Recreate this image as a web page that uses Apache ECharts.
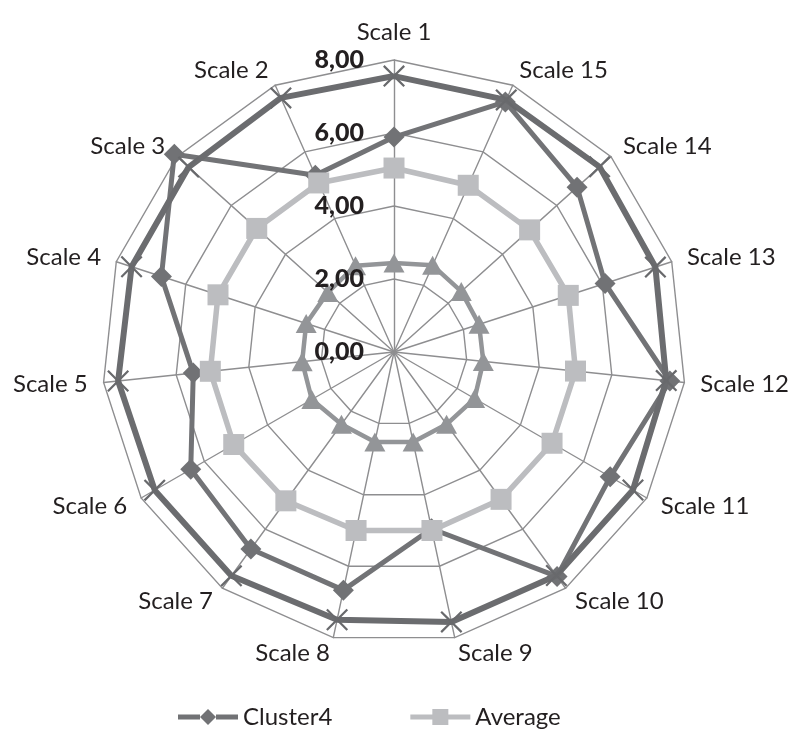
<!DOCTYPE html>
<html>
<head>
<meta charset="utf-8">
<script src="https://cdn.jsdelivr.net/npm/echarts@6/dist/echarts.min.js"></script>
<style>
  html, body { margin: 0; padding: 0; background: #fff; }
  #chart { width: 791px; height: 731px; }
</style>
</head>
<body>
<div id="chart"></div>
<script>
const categories = ["Scale 1", "Scale 2", "Scale 3", "Scale 4", "Scale 5", "Scale 6", "Scale 7", "Scale 8",
  "Scale 9", "Scale 10", "Scale 11", "Scale 12", "Scale 13", "Scale 14", "Scale 15"];
const cluster4 = [5.89, 5.3, 8.1, 6.7, 5.53, 6.43, 6.67, 6.67, 4.95, 7.6, 6.84, 7.6, 6.08, 6.75, 7.5];
const average = [5.04, 5.07, 5.06, 5.07, 5.06, 5.07, 5.04, 5.0, 5.0, 4.99, 5.0, 5.0, 5.02, 5.0, 5.0];
// two more series are drawn but have no legend entry
const upper = [7.56, 7.62, 7.57, 7.56, 7.6, 7.57, 7.58, 7.5, 7.56, 7.57, 7.56, 7.5, 7.53, 7.58, 7.56];
const lower = [2.44, 2.59, 2.44, 2.53, 2.53, 2.6, 2.45, 2.52, 2.52, 2.45, 2.55, 2.46, 2.45, 2.48, 2.6];
const axisMax = 8;

const txt = "#231f20";
const grid = "#8e8e90";
const crossPath = "path://M0,1 L1,0 L7,6 L13,0 L14,1 L8,7 L14,13 L13,14 L7,8 L1,14 L0,13 L6,7 Z";
const iconDiamond = "path://M0,5.5 L22,5.5 L22,10.5 L0,10.5 Z M38,5.5 L60,5.5 L60,10.5 L38,10.5 Z M30,0 L38,8 L30,16 L22,8 Z";
const iconSquare = "path://M0,5.5 L23,5.5 L23,10.5 L0,10.5 Z M37,5.5 L60,5.5 L60,10.5 L37,10.5 Z M22,0 L38,0 L38,16 L22,16 Z";

const base = {
  center: [394, 352],
  radius: 292,
  startAngle: 90,
  shape: "polygon",
  splitNumber: 4
};

const chart = echarts.init(document.getElementById("chart"));
const option = {
  animation: false,
  legend: {
    left: 173,
    top: 700,
    itemWidth: 60,
    itemHeight: 16,
    itemGap: 78,
    textStyle: { fontFamily: "Lato", fontSize: 24, color: txt },
    data: [
      { name: "Cluster4", icon: iconDiamond },
      { name: "Average", icon: iconSquare }
    ]
  },
  radar: [
    {
      ...base,
      nameGap: 16,
      axisName: { fontFamily: "Lato", fontSize: 24, color: txt },
      splitArea: { show: false },
      splitLine: { lineStyle: { color: grid, width: 1.4 } },
      axisLine: { lineStyle: { color: grid, width: 1.4 } },
      axisTick: { show: false },
      axisLabel: { show: false },
      indicator: categories.map(c => ({ name: c, min: 0, max: axisMax }))
    },
    {
      // labels only, drawn above the series
      ...base,
      z: 10,
      axisName: { show: false },
      splitArea: { show: false },
      splitLine: { show: false },
      axisLine: { show: false },
      axisTick: { show: false },
      axisLabel: { show: false },
      indicator: categories.map((c, i) => {
        const ind = { name: c, min: 0, max: axisMax };
        if (i === 0) {
          ind.axisLabel = {
            show: true,
            margin: 30,
            fontFamily: "Lato",
            fontWeight: 900,
            fontSize: 25,
            color: txt,
            formatter: v => v.toFixed(2).replace(".", ",")
          };
        }
        return ind;
      })
    }
  ],
  series: [
    {
      type: "radar",
      name: "Cluster4",
      z: 2,
      symbol: "diamond",
      symbolSize: 21,
      itemStyle: { color: "#717275" },
      lineStyle: { color: "#727376", width: 5 },
      data: [{ name: "Cluster4", value: cluster4 }]
    },
    {
      type: "radar",
      name: "Average",
      z: 3,
      symbol: "rect",
      symbolSize: 21,
      itemStyle: { color: "#bcbdc0" },
      lineStyle: { color: "#bcbdc0", width: 5.5 },
      data: [{ name: "Average", value: average }]
    },
    {
      type: "radar",
      name: "Upper",
      z: 4,
      symbol: crossPath,
      symbolSize: 22,
      itemStyle: { color: "#68696c" },
      lineStyle: { color: "#6b6c6f", width: 6 },
      data: [{ name: "Upper", value: upper }]
    },
    {
      type: "radar",
      name: "Lower",
      z: 4,
      symbol: "triangle",
      symbolSize: [21, 19],
      itemStyle: { color: "#939598" },
      lineStyle: { color: "#939598", width: 4.5 },
      data: [{ name: "Lower", value: lower }]
    }
  ]
};
chart.setOption(option);
</script>
</body>
</html>
